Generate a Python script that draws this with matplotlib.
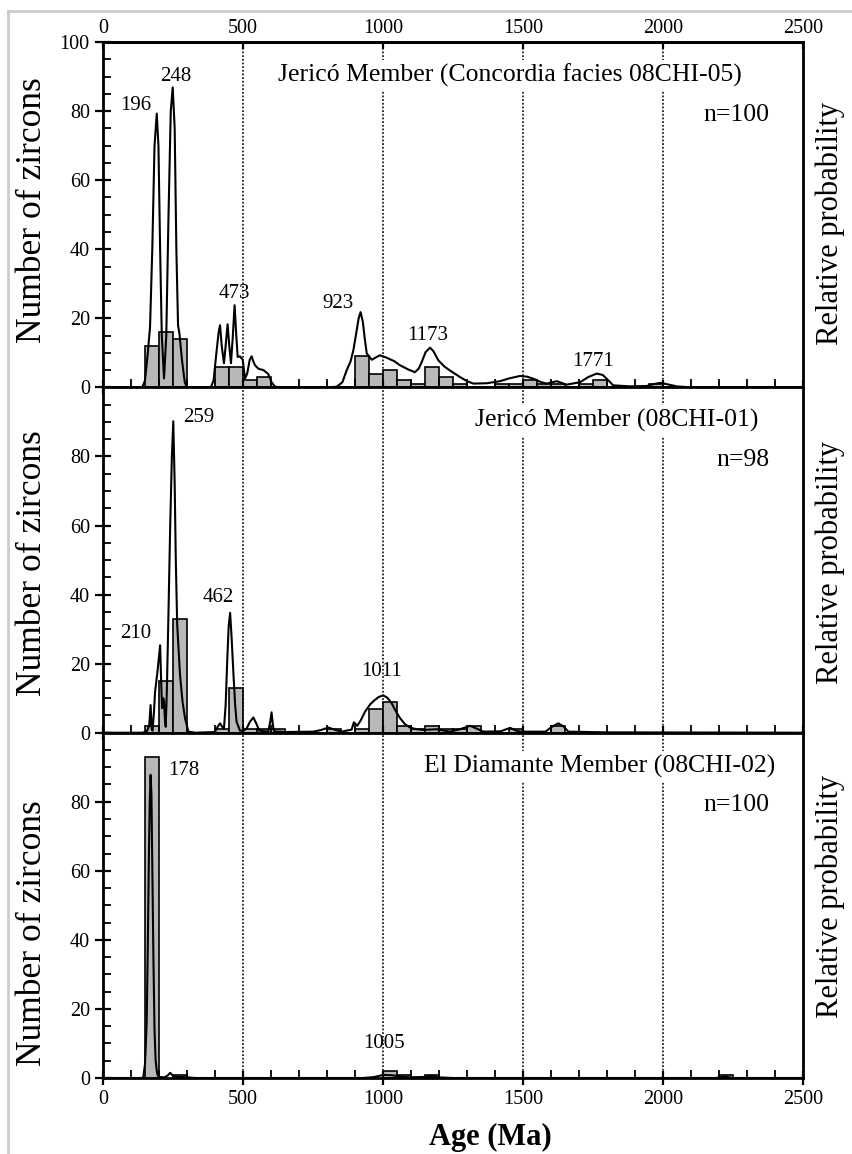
import matplotlib
matplotlib.use("Agg")
import matplotlib.pyplot as plt
from matplotlib.ticker import MultipleLocator
from matplotlib.lines import Line2D

plt.rcParams["font.family"] = ["Liberation Serif", "DejaVu Serif"]

# ---- Data ----
bin_width = 50

# Jericó Member (Concordia facies 08CHI-05)
top_bins = [150, 200, 250, 400, 450, 500, 550, 900, 950, 1000, 1050, 1100, 1150,
            1200, 1250, 1400, 1450, 1500, 1550, 1600, 1700, 1750, 1950]
top_counts = [12, 16, 14, 6, 6, 2, 3, 9, 4, 5, 2, 1, 6, 3, 1, 1, 1, 2, 1, 1, 1, 2, 1]
top_curve_age = [0, 140, 150, 160, 168, 176, 184, 192, 198, 204, 210, 218, 226, 234,
                 242, 249, 256, 262, 268, 273, 282, 292, 300, 385, 395, 405, 413, 418,
                 424, 432, 438, 445, 451, 457, 463, 470, 476, 481, 489, 499, 507, 515,
                 524, 531, 537, 543, 555, 573, 590, 602, 614, 640, 800, 835, 855, 870,
                 884, 894, 905, 913, 920, 928, 935, 942, 960, 975, 989, 1013, 1040, 1061,
                 1090, 1114, 1128, 1138, 1152, 1168, 1180, 1198, 1220, 1239, 1275, 1300,
                 1323, 1370, 1418, 1450, 1489, 1515, 1537, 1565, 1585, 1620, 1656, 1704,
                 1733, 1763, 1785, 1799, 1822, 1880, 1941, 1970, 1989, 2010, 2049, 2100, 2500]
top_curve_val = [0, 0, 2, 10, 17.5, 40, 70, 79.3, 70, 40, 15, 2.6, 15, 50,
                 80, 86.9, 75, 40, 18, 15.6, 8, 1.5, 0, 0, 2, 10, 16, 18,
                 12, 7, 12, 18.3, 12, 7, 14, 23.8, 15, 8.8, 9.0, 8, 2.6, 4,
                 8, 9.0, 7.5, 6.4, 5.4, 5.0, 3.9, 1.5, 0.2, 0, 0, 0.2, 1.5, 4.9,
                 7.5, 10.7, 16, 20, 21.8, 19, 14, 9.8, 8.0, 8.7, 9.3, 8.6, 7.6, 6.4,
                 5.2, 4.4, 5.5, 7.3, 10.2, 11.5, 10.5, 7.8, 6.0, 4.9, 3.0, 1.8,
                 1.1, 1.2, 1.8, 2.6, 3.3, 3.1, 2.5, 1.5, 1.1, 1.8, 0.8, 1.5,
                 3.0, 4.0, 3.6, 2.5, 0.6, 0.3, 0.4, 1.0, 1.3, 1.0, 0.3, 0, 0]
top_peaks = ["196", "248", "473", "923", "1173", "1771"]
top_peak_x = [117, 261, 469, 838, 1158, 1751]
top_peak_y = [81.7, 90.1, 27.2, 24.3, 15.1, 7.5]

# Jericó Member (08CHI-01)
mid_bins = [150, 200, 250, 400, 450, 500, 550, 600, 800, 900, 950, 1000, 1050,
            1100, 1150, 1200, 1250, 1300, 1450, 1600]
mid_counts = [2, 15, 33, 1, 13, 1, 1, 1, 1, 1, 7, 9, 2, 1, 2, 1, 1, 2, 1, 2]
mid_curve_age = [0, 140, 156, 165, 170, 174, 177, 182, 186, 195, 200, 204, 208, 211,
                 215, 218, 221, 224, 228, 233, 240, 246, 251, 256, 260, 265, 275, 284,
                 293, 305, 330, 400, 410, 418, 425, 432, 438, 444, 449, 454, 459, 466,
                 472, 477, 489, 500, 513, 525, 537, 548, 558, 590, 597, 602, 607, 611,
                 650, 751, 780, 805, 830, 852, 888, 896, 908, 920, 936, 955, 971, 986,
                 1001, 1016, 1031, 1046, 1061, 1078, 1096, 1120, 1144, 1191, 1239, 1275,
                 1311, 1340, 1359, 1420, 1454, 1475, 1490, 1580, 1605, 1626, 1645, 1662,
                 1800, 2500]
mid_curve_val = [0, 0, 0.3, 2, 8.0, 1, 0.6, 6, 11.9, 18, 22, 25.3, 14, 7.1,
                 10, 9.1, 4, 1.7, 12, 31.3, 60, 80, 90.2, 72, 50, 31.3, 16.8, 9,
                 4.2, 0.3, 0, 0.2, 1.8, 2.7, 1.8, 1.2, 8, 21.6, 31, 34.7, 28, 16.8,
                 8, 3.2, 0.6, 0.5, 1.2, 3.2, 4.4, 2.6, 0.6, 0.3, 3, 5.9, 2, 0.4,
                 0.2, 0.3, 0.8, 1.5, 0.8, 0.3, 0.9, 3.0, 2.0, 3.5, 6.1, 8.3, 9.5, 10.4,
                 10.8, 10.1, 8.5, 6.2, 4.2, 2.5, 1.5, 1.0, 0.8, 1.0, 0.3, 1.0,
                 2.0, 1.0, 0.3, 0.4, 1.4, 0.6, 0.3, 0.3, 1.8, 2.7, 1.8, 0.3,
                 0.1, 0]
mid_peaks = ["210", "259", "462", "1011"]
mid_peak_x = [118, 343, 411, 994]
mid_peak_y = [28.7, 91.4, 39.2, 17.7]

# El Diamante Member (08CHI-02)
bot_bins = [150, 250, 1000, 1050, 1150, 2200]
bot_counts = [93, 1, 2, 1, 1, 1]
bot_curve_age = [0, 140, 144, 150, 156, 160, 164, 167, 170, 173, 176, 180, 184, 188,
                 193, 198, 220, 232, 240, 248, 260, 300, 330, 930, 970, 1000, 1030,
                 1060, 1090, 1150, 1170, 1195, 1250, 2190, 2220, 2250, 2500]
bot_curve_val = [0, 0, 0.3, 4, 16, 38, 65, 80, 87.8, 82, 62, 35, 14, 5,
                 1.5, 0.3, 0.2, 0.8, 1.5, 0.8, 0.4, 0.2, 0, 0, 0.3, 0.9, 0.8,
                 0.5, 0.2, 0.3, 0.5, 0.2, 0, 0, 0.4, 0, 0]
bot_peaks = ["178", "1005"]
bot_peak_x = [287, 1002]
bot_peak_y = [89, 10]

age_ticks = [0, 500, 1000, 1500, 2000, 2500]

panels = [
    dict(title="Jericó Member (Concordia facies 08CHI-05)", title_x=2281, n="n=100",
         bins=top_bins, counts=top_counts, cx=top_curve_age, cy=top_curve_val,
         peaks=top_peaks, px=top_peak_x, py=top_peak_y,
         yticks=[0, 20, 40, 60, 80, 100], lab_l=0.513, lab_r=0.475),
    dict(title="Jericó Member (08CHI-01)", title_x=2339, n="n=98",
         bins=mid_bins, counts=mid_counts, cx=mid_curve_age, cy=mid_curve_val,
         peaks=mid_peaks, px=mid_peak_x, py=mid_peak_y,
         yticks=[0, 20, 40, 60, 80], lab_l=0.49, lab_r=0.494),
    dict(title="El Diamante Member (08CHI-02)", title_x=2400, n="n=100",
         bins=bot_bins, counts=bot_counts, cx=bot_curve_age, cy=bot_curve_val,
         peaks=bot_peaks, px=bot_peak_x, py=bot_peak_y,
         yticks=[0, 20, 40, 60, 80], lab_l=0.42, lab_r=0.526),
]

fig = plt.figure(figsize=(8.52, 11.54), dpi=100)

# faint frame of the original scan
fig.add_artist(Line2D([8 / 852, 1.0], [1 - 11 / 1154] * 2, transform=fig.transFigure,
                      color="#cccccc", lw=2))
fig.add_artist(Line2D([8 / 852] * 2, [0, 1 - 11 / 1154], transform=fig.transFigure,
                      color="#cccccc", lw=2))

left, width = 103 / 852, 700 / 852
bottom0, h = 1 - 1078 / 1154, 345.3 / 1154

for i, p in enumerate(panels):
    ax = fig.add_axes([left, bottom0 + (2 - i) * h, width, h])
    ax.set_xlim(0, 2500)
    ax.set_ylim(0, 100)

    ax.bar(p["bins"], p["counts"], width=bin_width, align="edge", color="#b8b8b8",
           edgecolor="black", linewidth=1.2, zorder=1)
    for v in age_ticks[1:-1]:
        ax.axvline(v, color="black", linestyle=(0, (1.2, 1.2)), lw=1.1, zorder=2)
    ax.plot(p["cx"], p["cy"], color="black", lw=1.5, zorder=2.5)

    for lab, x, y in zip(p["peaks"], p["px"], p["py"]):
        ax.text(x, y, lab, fontsize=15, ha="center", va="center", zorder=4)

    ax.text(p["title_x"], 90.3, p["title"], fontsize=18.5, ha="right", va="center",
            zorder=5, bbox=dict(facecolor="white", edgecolor="none", pad=3))
    ax.text(2380, 79, p["n"], fontsize=18.5, ha="right", va="center", zorder=5)

    ax.text(-0.1, p["lab_l"], "Number of zircons", transform=ax.transAxes,
            rotation=90, ha="center", va="center", fontsize=25.5)
    ax.text(1.0386, p["lab_r"], "Relative probability", transform=ax.transAxes,
            rotation=90, ha="center", va="center", fontsize=22)

    for s in ax.spines.values():
        s.set_linewidth(2)

    ax.set_yticks(p["yticks"])
    ax.yaxis.set_minor_locator(MultipleLocator(5))
    ax.tick_params(axis="y", which="major", direction="inout", length=11, width=1.6,
                   labelsize=14.5, pad=4, right=False)
    ax.tick_params(axis="y", which="minor", direction="in", length=6, width=1.3,
                   right=False)

    ax.set_xticks(age_ticks)
    ax.xaxis.set_minor_locator(MultipleLocator(100))
    ax.tick_params(axis="x", which="major", direction="inout", length=10, width=1.6,
                   labelsize=14.5, top=False, labeltop=False,
                   labelbottom=(i == 2), pad=4)
    ax.tick_params(axis="x", which="minor", direction="in", length=6, width=1.3,
                   top=False)

    if i == 0:
        sec = ax.secondary_xaxis("top")
        sec.set_xticks(age_ticks)
        sec.tick_params(axis="x", which="major", direction="in", length=5, width=1.6,
                        labelsize=14.5, pad=3)
        sec.spines["top"].set_linewidth(2)

fig.text(490 / 852, 1 - 1137 / 1154, "Age (Ma)", fontsize=22, fontweight="bold",
         ha="center", va="center")

fig.savefig("out.png", dpi=100)
